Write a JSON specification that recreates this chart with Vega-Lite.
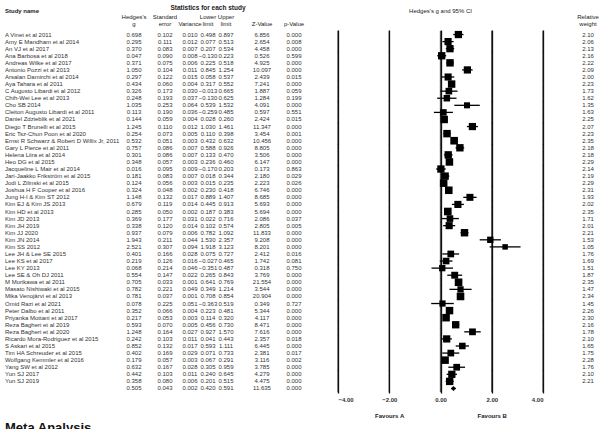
{
  "$schema": "https://vega.github.io/schema/vega-lite/v6.json",
  "autosize": {"type": "none"},
  "padding": {"left": 5, "top": 30, "right": 596, "bottom": 399},
  "background": "white",
  "config": {
    "font": "Liberation Sans",
    "view": {"stroke": null},
    "title": {"fontSize": 6, "color": "#222", "fontWeight": "normal", "lineHeight": 7, "subtitleFontSize": 6, "subtitleColor": "#222", "subtitleFontWeight": "normal", "subtitleLineHeight": 7},
    "text": {"fontSize": 6, "color": "#333"}
  },
  "title": {"text": "Meta Analysis", "orient": "bottom", "anchor": "start", "fontSize": 13, "fontWeight": "bold", "color": "#111", "offset": 4},
  "datasets": {
    "studies": [
      {"study": "A Vinet et al 2011", "g": 0.698, "se": 0.102, "var": 0.010, "lo": 0.498, "hi": 0.897, "z": 6.856, "p": 0.000, "w": 2.10},
      {"study": "Amy E Mandham et al 2014", "g": 0.295, "se": 0.111, "var": 0.012, "lo": 0.077, "hi": 0.513, "z": 2.654, "p": 0.008, "w": 2.06},
      {"study": "An VJ et al 2017", "g": 0.370, "se": 0.083, "var": 0.007, "lo": 0.207, "hi": 0.534, "z": 4.458, "p": 0.000, "w": 2.13},
      {"study": "Ana Barbosa et al 2018", "g": 0.047, "se": 0.090, "var": 0.008, "lo": -0.130, "hi": 0.223, "z": 0.526, "p": 0.599, "w": 2.16},
      {"study": "Andreas Wilke et al 2017", "g": 0.371, "se": 0.075, "var": 0.006, "lo": 0.225, "hi": 0.518, "z": 4.925, "p": 0.000, "w": 2.22},
      {"study": "Antonio Pozzi et al 2013", "g": 1.050, "se": 0.104, "var": 0.011, "lo": 0.845, "hi": 1.254, "z": 10.097, "p": 0.000, "w": 2.09},
      {"study": "Arsalan Damirchi et al 2014", "g": 0.297, "se": 0.122, "var": 0.015, "lo": 0.058, "hi": 0.537, "z": 2.439, "p": 0.015, "w": 2.00},
      {"study": "Aya Tahara et al 2011", "g": 0.434, "se": 0.060, "var": 0.004, "lo": 0.317, "hi": 0.552, "z": 7.241, "p": 0.000, "w": 2.23},
      {"study": "C Augusto Libardi et al 2012", "g": 0.326, "se": 0.173, "var": 0.030, "lo": -0.013, "hi": 0.665, "z": 1.887, "p": 0.059, "w": 1.73},
      {"study": "Chih-Wei Lee et al 2013", "g": 0.248, "se": 0.193, "var": 0.037, "lo": -0.130, "hi": 0.625, "z": 1.284, "p": 0.199, "w": 1.62},
      {"study": "Cho SB 2014", "g": 1.035, "se": 0.253, "var": 0.064, "lo": 0.539, "hi": 1.532, "z": 4.091, "p": 0.000, "w": 1.35},
      {"study": "Cleiton Augusto Libardi et al 2011", "g": 0.113, "se": 0.190, "var": 0.036, "lo": -0.259, "hi": 0.485, "z": 0.597, "p": 0.551, "w": 1.63},
      {"study": "Daniel Zdzieblik et al 2021", "g": 0.144, "se": 0.059, "var": 0.004, "lo": 0.028, "hi": 0.260, "z": 2.424, "p": 0.015, "w": 2.25},
      {"study": "Diego T Brunelli et al 2015", "g": 1.245, "se": 0.110, "var": 0.012, "lo": 1.030, "hi": 1.461, "z": 11.347, "p": 0.000, "w": 2.07},
      {"study": "Eric Tsz-Chun Poon et al 2020", "g": 0.254, "se": 0.073, "var": 0.005, "lo": 0.110, "hi": 0.398, "z": 3.454, "p": 0.001, "w": 2.23},
      {"study": "Ernst R Schwarz & Robert D Willix Jr, 2011", "g": 0.532, "se": 0.051, "var": 0.003, "lo": 0.432, "hi": 0.632, "z": 10.456, "p": 0.000, "w": 2.35},
      {"study": "Gary L Pierce et al 2011", "g": 0.757, "se": 0.086, "var": 0.007, "lo": 0.588, "hi": 0.926, "z": 8.805, "p": 0.000, "w": 2.18},
      {"study": "Helena Liira et al 2014", "g": 0.301, "se": 0.086, "var": 0.007, "lo": 0.133, "hi": 0.470, "z": 3.506, "p": 0.000, "w": 2.18},
      {"study": "Heo DG et al 2015", "g": 0.348, "se": 0.057, "var": 0.003, "lo": 0.236, "hi": 0.460, "z": 6.147, "p": 0.000, "w": 2.29},
      {"study": "Jacqueline L Mair et al 2014", "g": 0.016, "se": 0.095, "var": 0.009, "lo": -0.170, "hi": 0.203, "z": 0.173, "p": 0.863, "w": 2.14},
      {"study": "Jari-Jaakko Frikström et al 2015", "g": 0.181, "se": 0.083, "var": 0.007, "lo": 0.018, "hi": 0.344, "z": 2.180, "p": 0.029, "w": 2.19},
      {"study": "Jodi L Zilinski et al 2015", "g": 0.124, "se": 0.056, "var": 0.003, "lo": 0.015, "hi": 0.235, "z": 2.223, "p": 0.026, "w": 2.29},
      {"study": "Joshua H F Cooper et al 2016", "g": 0.324, "se": 0.048, "var": 0.002, "lo": 0.230, "hi": 0.418, "z": 6.746, "p": 0.000, "w": 2.31},
      {"study": "Jung H-I & Kim ST 2012", "g": 1.148, "se": 0.132, "var": 0.017, "lo": 0.889, "hi": 1.407, "z": 8.685, "p": 0.000, "w": 1.93},
      {"study": "Kim EJ & Kim JS 2013", "g": 0.679, "se": 0.119, "var": 0.014, "lo": 0.445, "hi": 0.913, "z": 5.693, "p": 0.000, "w": 2.02},
      {"study": "Kim HD et al 2013", "g": 0.285, "se": 0.050, "var": 0.002, "lo": 0.187, "hi": 0.383, "z": 5.694, "p": 0.000, "w": 2.35},
      {"study": "Kim JD 2013", "g": 0.369, "se": 0.177, "var": 0.031, "lo": 0.022, "hi": 0.716, "z": 2.086, "p": 0.037, "w": 1.71},
      {"study": "Kim JH 2019", "g": 0.338, "se": 0.120, "var": 0.014, "lo": 0.102, "hi": 0.574, "z": 2.805, "p": 0.005, "w": 2.01},
      {"study": "Kim JJ 2020", "g": 0.937, "se": 0.079, "var": 0.006, "lo": 0.782, "hi": 1.092, "z": 11.833, "p": 0.000, "w": 2.21},
      {"study": "Kim JN 2014", "g": 1.943, "se": 0.211, "var": 0.044, "lo": 1.530, "hi": 2.357, "z": 9.208, "p": 0.000, "w": 1.53},
      {"study": "Kim SS 2012", "g": 2.521, "se": 0.307, "var": 0.094, "lo": 1.918, "hi": 3.123, "z": 8.201, "p": 0.000, "w": 1.05},
      {"study": "Lee JH & Lee SE 2015", "g": 0.401, "se": 0.166, "var": 0.028, "lo": 0.075, "hi": 0.727, "z": 2.412, "p": 0.016, "w": 1.76},
      {"study": "Lee KS et al 2017", "g": 0.219, "se": 0.126, "var": 0.016, "lo": -0.027, "hi": 0.465, "z": 1.742, "p": 0.081, "w": 1.69},
      {"study": "Lee KY 2013", "g": 0.068, "se": 0.214, "var": 0.046, "lo": -0.351, "hi": 0.487, "z": 0.318, "p": 0.750, "w": 1.51},
      {"study": "Lee SE & Oh DJ 2011", "g": 0.554, "se": 0.147, "var": 0.022, "lo": 0.265, "hi": 0.843, "z": 3.769, "p": 0.000, "w": 1.87},
      {"study": "M Morikawa et al 2011", "g": 0.705, "se": 0.033, "var": 0.001, "lo": 0.641, "hi": 0.769, "z": 21.554, "p": 0.000, "w": 2.35},
      {"study": "Masato Nishiwaki et al 2015", "g": 0.782, "se": 0.221, "var": 0.049, "lo": 0.349, "hi": 1.214, "z": 3.544, "p": 0.000, "w": 1.47},
      {"study": "Mika Venojärvi et al 2013", "g": 0.781, "se": 0.037, "var": 0.001, "lo": 0.708, "hi": 0.854, "z": 20.904, "p": 0.000, "w": 2.34},
      {"study": "Omid Razi et al 2021", "g": 0.078, "se": 0.225, "var": 0.051, "lo": -0.363, "hi": 0.519, "z": 0.349, "p": 0.727, "w": 1.45},
      {"study": "Peter Dalbo et al 2011", "g": 0.352, "se": 0.066, "var": 0.004, "lo": 0.223, "hi": 0.481, "z": 5.344, "p": 0.000, "w": 2.26},
      {"study": "Priyanka Mottani et al 2017", "g": 0.217, "se": 0.053, "var": 0.003, "lo": 0.114, "hi": 0.320, "z": 4.117, "p": 0.000, "w": 2.30},
      {"study": "Reza Bagheri et al 2019", "g": 0.593, "se": 0.070, "var": 0.005, "lo": 0.456, "hi": 0.730, "z": 8.471, "p": 0.000, "w": 2.16},
      {"study": "Reza Bagheri et al 2020", "g": 1.248, "se": 0.164, "var": 0.027, "lo": 0.927, "hi": 1.570, "z": 7.616, "p": 0.000, "w": 1.78},
      {"study": "Ricardo Mora-Rodriguez et al 2015", "g": 0.242, "se": 0.103, "var": 0.011, "lo": 0.041, "hi": 0.443, "z": 2.357, "p": 0.018, "w": 2.10},
      {"study": "S Askari et al 2015", "g": 0.852, "se": 0.132, "var": 0.017, "lo": 0.593, "hi": 1.111, "z": 6.445, "p": 0.000, "w": 1.65},
      {"study": "Tim HA Schreuder et al 2015", "g": 0.402, "se": 0.169, "var": 0.029, "lo": 0.071, "hi": 0.733, "z": 2.381, "p": 0.017, "w": 1.75},
      {"study": "Wolfgang Kemmler et al 2016", "g": 0.179, "se": 0.057, "var": 0.003, "lo": 0.067, "hi": 0.291, "z": 3.116, "p": 0.002, "w": 2.28},
      {"study": "Yang SW et al 2012", "g": 0.632, "se": 0.167, "var": 0.028, "lo": 0.305, "hi": 0.959, "z": 3.785, "p": 0.000, "w": 1.76},
      {"study": "Yun SJ 2017", "g": 0.442, "se": 0.103, "var": 0.011, "lo": 0.240, "hi": 0.645, "z": 4.279, "p": 0.000, "w": 2.10},
      {"study": "Yun SJ 2019", "g": 0.358, "se": 0.080, "var": 0.006, "lo": 0.201, "hi": 0.515, "z": 4.475, "p": 0.000, "w": 2.21},
      {"study": "", "g": 0.505, "se": 0.043, "var": 0.002, "lo": 0.420, "hi": 0.591, "z": 11.635, "p": 0.000, "w": null}
    ]
  },
  "data": {"name": "studies"},
  "spacing": 0,
  "bounds": "flush",
  "resolve": {"scale": {"x": "independent", "y": "independent"}},
  "hconcat": [
    {
      "width": 107, "height": 363,
      "title": {"text": "Study name", "anchor": "start", "offset": 16, "fontWeight": "bold"},
      "mark": {"type": "text", "align": "left"},
      "encoding": {
        "x": {"datum": 0, "type": "quantitative", "scale": {"domain": [0, 1]}, "axis": null},
        "y": {"field": "study", "type": "nominal", "sort": null, "scale": {"type": "point", "padding": 0.64}, "axis": null},
        "text": {"field": "study", "type": "nominal"}
      }
    },
    {"width": 44, "height": 363, "title": {"text": ["Hedges's", "g"], "offset": 3}, "mark": "text",
     "encoding": {"y": {"field": "study", "type": "nominal", "sort": null, "scale": {"type": "point", "padding": 0.64}, "axis": null},
                  "text": {"field": "g", "type": "quantitative", "format": ".3f"}}},
    {"width": 18, "height": 363, "title": {"text": ["Standard", "error"], "offset": 3}, "mark": "text",
     "encoding": {"y": {"field": "study", "type": "nominal", "sort": null, "scale": {"type": "point", "padding": 0.64}, "axis": null},
                  "text": {"field": "se", "type": "quantitative", "format": ".3f"}}},
    {"width": 32, "height": 363, "title": {"text": "Variance", "offset": 3}, "mark": "text",
     "encoding": {"y": {"field": "study", "type": "nominal", "sort": null, "scale": {"type": "point", "padding": 0.64}, "axis": null},
                  "text": {"field": "var", "type": "quantitative", "format": ".3f"}}},
    {"width": 4, "height": 363,
     "title": {"text": "Statistics for each study", "fontSize": 6.5, "fontWeight": "bold", "subtitle": ["Lower", "limit"], "subtitlePadding": 3, "offset": 3},
     "mark": "text",
     "encoding": {"y": {"field": "study", "type": "nominal", "sort": null, "scale": {"type": "point", "padding": 0.64}, "axis": null},
                  "text": {"field": "lo", "type": "quantitative", "format": ".3f"}}},
    {"width": 32, "height": 363, "title": {"text": ["Upper", "limit"], "offset": 3}, "mark": "text",
     "encoding": {"y": {"field": "study", "type": "nominal", "sort": null, "scale": {"type": "point", "padding": 0.64}, "axis": null},
                  "text": {"field": "hi", "type": "quantitative", "format": ".3f"}}},
    {"width": 40, "height": 363, "title": {"text": "Z-Value", "offset": 3}, "mark": "text",
     "encoding": {"y": {"field": "study", "type": "nominal", "sort": null, "scale": {"type": "point", "padding": 0.64}, "axis": null},
                  "text": {"field": "z", "type": "quantitative", "format": ".3f"}}},
    {"width": 56, "height": 363, "title": {"text": "p-Value", "offset": 3, "dx": -16}, "mark": {"type": "text", "dx": -16},
     "encoding": {"y": {"field": "study", "type": "nominal", "sort": null, "scale": {"type": "point", "padding": 0.64}, "axis": null},
                  "text": {"field": "p", "type": "quantitative", "format": ".3f"}}},
    {
      "width": 205, "height": 363,
      "title": {"text": "Hedges's g and 95% CI", "offset": 16},
      "layer": [
        {
          "mark": {"type": "rule", "color": "black", "strokeWidth": 1.3},
          "encoding": {
            "y": {"field": "study", "type": "nominal", "sort": null, "scale": {"type": "point", "padding": 0.64}, "axis": null},
            "x": {"field": "lo", "type": "quantitative",
                  "scale": {"domain": [-4, 4], "nice": false, "zero": false},
                  "axis": {"values": [-4, -2, 0, 2, 4], "format": ".2f", "grid": true, "gridColor": "#111", "gridWidth": 1.3,
                           "domain": false, "ticks": false, "labelFontSize": 6, "labelPadding": 3, "labelColor": "#333",
                           "labelFontWeight": "bold",
                           "title": "Favours A\u00a0\u00a0\u00a0\u00a0\u00a0\u00a0\u00a0\u00a0\u00a0\u00a0\u00a0\u00a0\u00a0\u00a0\u00a0\u00a0\u00a0\u00a0\u00a0\u00a0\u00a0\u00a0\u00a0\u00a0\u00a0\u00a0\u00a0\u00a0\u00a0\u00a0\u00a0\u00a0\u00a0\u00a0\u00a0\u00a0\u00a0\u00a0\u00a0\u00a0\u00a0\u00a0\u00a0\u00a0Favours B",
                           "titleFontSize": 6, "titleFontWeight": "bold", "titleColor": "#222", "titlePadding": 10}},
            "x2": {"field": "hi"}
          }
        },
        {
          "mark": {"type": "tick", "color": "#111", "thickness": 1.3, "size": 7.4},
          "encoding": {
            "y": {"field": "study", "type": "nominal", "sort": null},
            "x": {"datum": -4, "type": "quantitative"}
          }
        },
        {
          "mark": {"type": "tick", "color": "#111", "thickness": 1.3, "size": 7.4},
          "encoding": {
            "y": {"field": "study", "type": "nominal", "sort": null},
            "x": {"datum": -2, "type": "quantitative"}
          }
        },
        {
          "mark": {"type": "tick", "color": "#111", "thickness": 1.3, "size": 7.4},
          "encoding": {
            "y": {"field": "study", "type": "nominal", "sort": null},
            "x": {"datum": 0, "type": "quantitative"}
          }
        },
        {
          "mark": {"type": "tick", "color": "#111", "thickness": 1.3, "size": 7.4},
          "encoding": {
            "y": {"field": "study", "type": "nominal", "sort": null},
            "x": {"datum": 2, "type": "quantitative"}
          }
        },
        {
          "mark": {"type": "tick", "color": "#111", "thickness": 1.3, "size": 7.4},
          "encoding": {
            "y": {"field": "study", "type": "nominal", "sort": null},
            "x": {"datum": 4, "type": "quantitative"}
          }
        },
        {
          "mark": {"type": "point", "filled": true, "color": "black", "opacity": 1, "invalid": null},
          "encoding": {
            "y": {"field": "study", "type": "nominal", "sort": null},
            "x": {"field": "g", "type": "quantitative"},
            "shape": {"condition": {"test": "datum.w == null", "value": "diamond"}, "value": "square"},
            "size": {"condition": {"test": "datum.w == null", "value": 26},
                     "field": "w", "type": "quantitative",
                     "scale": {"domain": [1.05, 2.35], "range": [30, 58]}, "legend": null}
          }
        }
      ]
    },
    {
      "width": 58, "height": 363,
      "title": {"text": ["Relative", "weight"], "offset": 3, "dx": 16},
      "mark": {"type": "text", "dx": 16},
      "encoding": {
        "y": {"field": "study", "type": "nominal", "sort": null, "scale": {"type": "point", "padding": 0.64}, "axis": null},
        "text": {"condition": {"test": "datum.w == null", "value": ""}, "field": "w", "type": "quantitative", "format": ".2f"}
      }
    }
  ]
}
